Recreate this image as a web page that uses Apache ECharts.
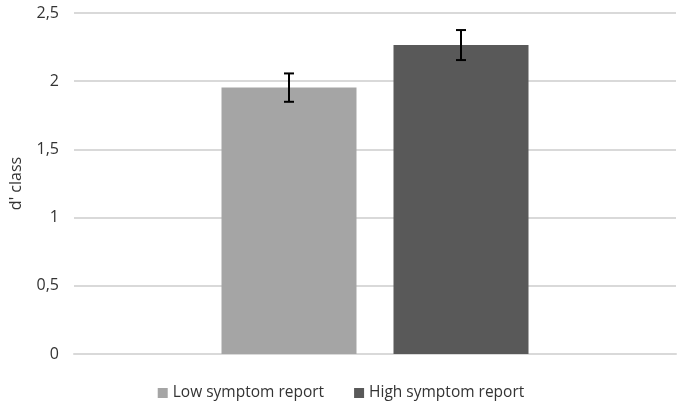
<!DOCTYPE html>
<html>
<head>
<meta charset="utf-8">
<script src="https://cdn.jsdelivr.net/npm/echarts@6/dist/echarts.min.js"></script>
<style>
  html, body { margin: 0; padding: 0; background: #fff; }
  #chart { width: 682px; height: 410px; }
</style>
</head>
<body>
<div id="chart"></div>
<script>
var groups = ['Low symptom report', 'High symptom report'];
var means = [1.953, 2.265];
var errors = [0.104, 0.11];
var colors = ['#a5a5a5', '#595959'];
var yTicks = [0, 0.5, 1, 1.5, 2, 2.5];

var barWidth = 135;
var barGapPx = 37;

var chart = echarts.init(document.getElementById('chart'));

var series = [];
groups.forEach(function (name, i) {
    series.push({
        name: name,
        type: 'bar',
        data: [means[i]],
        barWidth: barWidth,
        barGap: (barGapPx / barWidth * 100) + '%',
        itemStyle: {color: colors[i]}
    });
});

// error bars, one custom series per group
groups.forEach(function (name, i) {
    var shift = (i - (groups.length - 1) / 2) * (barWidth + barGapPx);
    series.push({
        type: 'custom',
        silent: true,
        z: 10,
        data: [[0, means[i] - errors[i], means[i] + errors[i]]],
        renderItem: function (params, api) {
            var lo = api.coord([api.value(0), api.value(1)]);
            var hi = api.coord([api.value(0), api.value(2)]);
            var x = lo[0] + shift;
            var cap = 5;
            var style = {stroke: '#000', lineWidth: 2};
            return {
                type: 'group',
                children: [
                    {type: 'line', shape: {x1: x, y1: hi[1], x2: x, y2: lo[1]}, style: style},
                    {type: 'line', shape: {x1: x - cap, y1: hi[1], x2: x + cap, y2: hi[1]}, style: style},
                    {type: 'line', shape: {x1: x - cap, y1: lo[1], x2: x + cap, y2: lo[1]}, style: style}
                ]
            };
        }
    });
});

var option = {
    animation: false,
    textStyle: {fontFamily: 'Open Sans'},
    grid: {left: 70, right: 6, top: 13, bottom: 56},
    legend: {
        data: groups,
        bottom: 4,
        left: 'center',
        itemWidth: 10,
        itemHeight: 10,
        itemGap: 30,
        icon: 'rect',
        textStyle: {fontSize: 15.5, color: '#333', fontFamily: 'Open Sans'}
    },
    xAxis: {
        type: 'category',
        data: [''],
        axisLine: {lineStyle: {color: '#d9d9d9', width: 2}},
        axisTick: {show: false},
        axisLabel: {show: false}
    },
    yAxis: {
        type: 'value',
        min: yTicks[0],
        max: yTicks[yTicks.length - 1],
        interval: 0.5,
        name: "d' class",
        nameLocation: 'middle',
        nameGap: 50,
        nameTextStyle: {fontSize: 16, color: '#333'},
        axisLine: {show: false},
        axisTick: {show: false},
        axisLabel: {
            fontSize: 16,
            color: '#333',
            margin: 15,
            formatter: function (v) { return String(v).replace('.', ','); }
        },
        splitLine: {lineStyle: {color: '#d9d9d9', width: 2}}
    },
    series: series
};

chart.setOption(option);
</script>
</body>
</html>
